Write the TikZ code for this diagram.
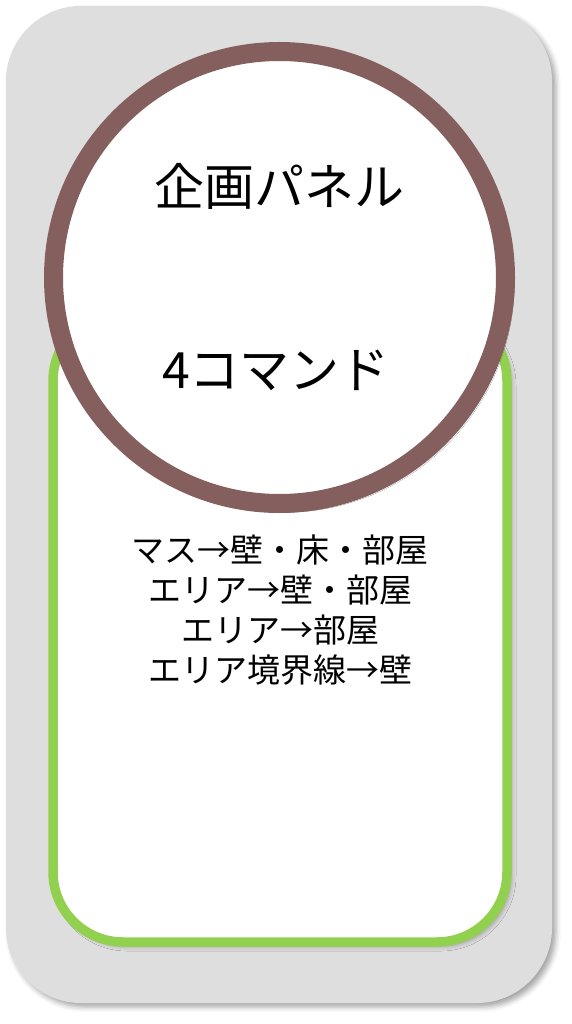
\documentclass[tikz,border=0pt]{standalone}
\usepackage{fontspec}
\newfontfamily\jpfont{Noto Sans CJK JP}
\usetikzlibrary{shadows.blur}
\definecolor{panelgray}{RGB}{222,222,222}
\definecolor{ringbrown}{RGB}{133,94,94}
\definecolor{leafgreen}{RGB}{146,208,80}
\begin{document}
\begin{tikzpicture}[x=1pt,y=-1pt,
  softshadow/.style={blur shadow={shadow xshift=4pt, shadow yshift=-4pt, shadow blur radius=5pt, shadow opacity=35}},
  panel/.style={fill=panelgray, draw=none, rounded corners=75pt, inner sep=0pt, softshadow},
  listbox/.style={fill=white, draw=leafgreen, line width=9.5pt, rounded corners=70pt, inner sep=0pt, softshadow},
  ring/.style={circle, fill=white, draw=ringbrown, line width=19pt, inner sep=0pt, minimum size=452pt, softshadow},
  title/.style={font=\jpfont\fontsize{50pt}{60pt}\selectfont, text=black, inner sep=0pt},
  listtext/.style={font=\jpfont\fontsize{33pt}{40pt}\selectfont, text=black, align=center, inner sep=0pt}]
\useasboundingbox (0,0) rectangle (571,1024);
\node[panel, minimum width=546pt, minimum height=997pt] (outer) at (279,504.5) {};
\node[listbox, minimum width=454pt, minimum height=631pt] (list) at (280,626.5) {};
\node[ring] (circ) at (279.5,277.5) {};
\node[title] (name) at (279.5,186) {企画パネル};
\node[title] (count) at (276,370) {4コマンド};
\node[listtext] (cmds) at (280,610) {マス→壁・床・部屋\\エリア→壁・部屋\\エリア→部屋\\エリア境界線→壁};
\end{tikzpicture}
\end{document}
